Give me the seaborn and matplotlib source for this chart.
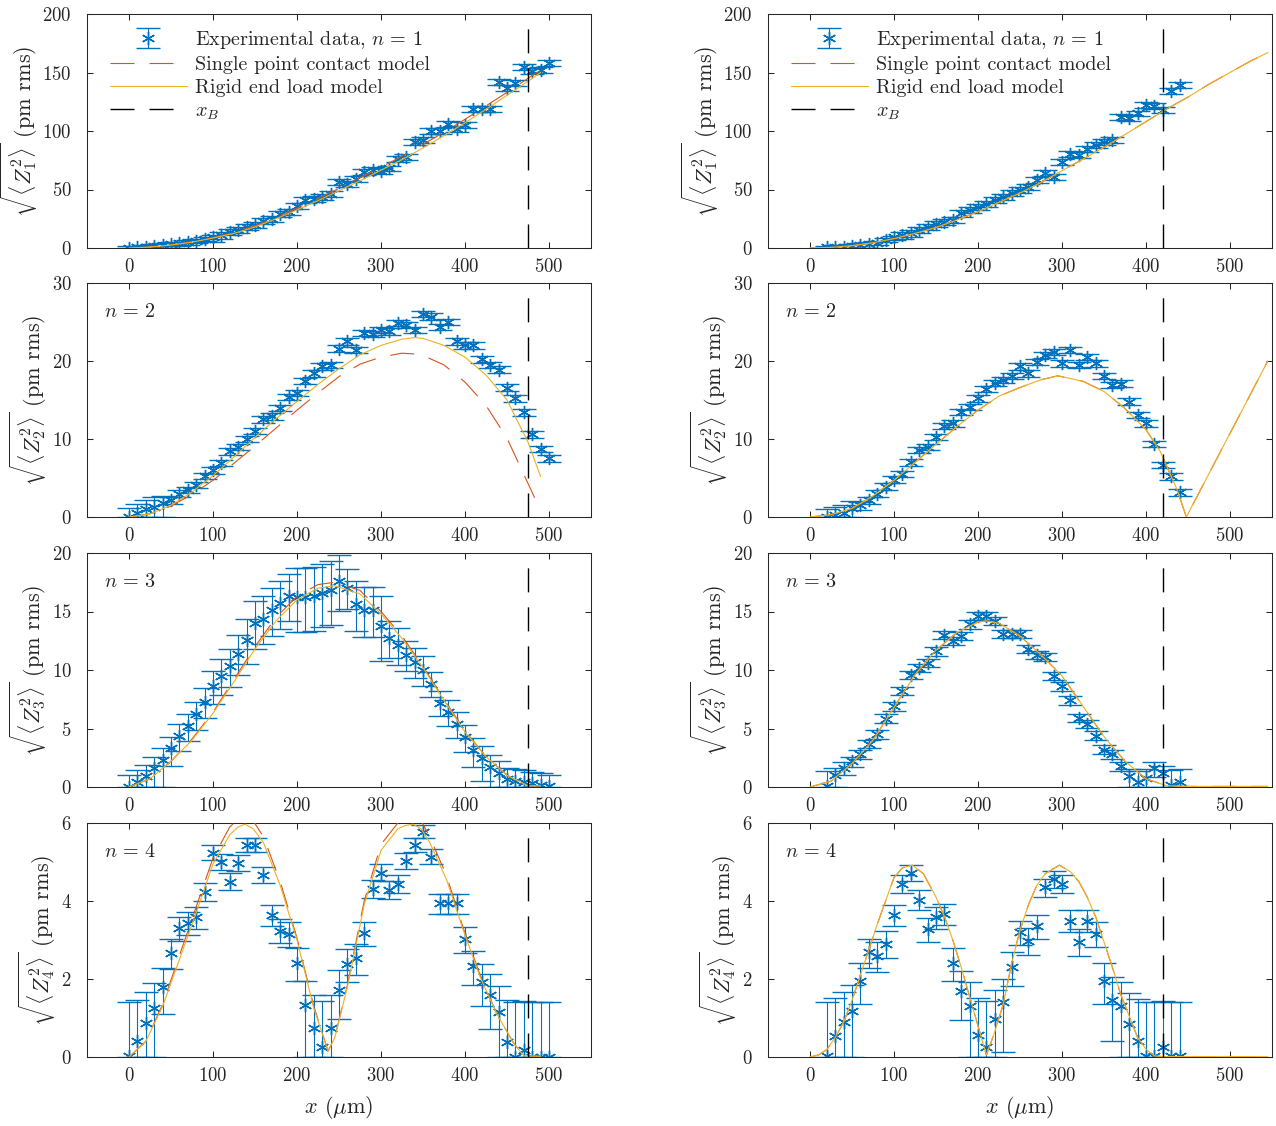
import numpy as np
import pandas as pd
import matplotlib
matplotlib.use("Agg")
import matplotlib.pyplot as plt
import seaborn as sns
from matplotlib.lines import Line2D

# ---------------- data ----------------
x_left = [0, 10, 20, 30, 40, 50, 60, 70, 80, 90, 100, 110, 120, 130, 140, 150, 160, 170, 180, 190,
          200, 210, 220, 230, 240, 250, 260, 270, 280, 290, 300, 310, 320, 330, 340, 350, 360, 370,
          380, 390, 400, 410, 420, 430, 440, 450, 460, 470, 480, 490, 500]
x_right = [20, 30, 40, 50, 60, 70, 80, 90, 100, 110, 120, 130, 140, 150, 160, 170, 180, 190, 200,
           210, 220, 230, 240, 250, 260, 270, 280, 290, 300, 310, 320, 330, 340, 350, 360, 370, 380,
           390, 400, 410, 420, 430, 440]

# experimental data, left column
z1_left = [0, 0.5, 1, 1.5, 2.5, 3.5, 4, 5, 6, 7.5, 9, 11, 14, 15.5, 18, 20, 23, 25, 29, 31,
           36, 41, 42, 44, 46.5, 56.5, 55, 59, 65, 67, 66, 68, 76, 78, 91, 92, 100, 100, 106, 102,
           105, 119, 119, 119, 142, 137, 141, 155, 151, 152, 158]
z2_left = [0, 0.5, 1, 1.3, 1.75, 2.2, 3, 3.5, 4.1, 5.3, 6, 6.9, 8.4, 9, 10, 11, 12.5, 12.9, 14, 15.4,
           15.9, 17.4, 18.4, 19.3, 19.5, 21.6, 22.5, 21.4, 23.6, 23.5, 24, 23.8, 24.9, 24.6, 24, 26,
           25.7, 24.4, 25, 22.5, 22, 22, 20.2, 19.5, 18.9, 16.6, 15.2, 13.4, 10.6, 8.7, 7.5]
z3_left = [0, 0.45, 0.9, 1.6, 2.3, 3.3, 4.4, 5.2, 6.2, 7.3, 8.6, 9.5, 10.3, 11.4, 12.6, 14, 14.4,
           15.1, 15.7, 16.3, 16.2, 16.2, 16.3, 16.6, 16.8, 17.6, 17, 15.6, 15.1, 15.1, 13.8, 12.7,
           12.1, 11.3, 10.7, 10, 8.8, 7.2, 6.4, 5.4, 4.3, 3.2, 2.5, 1.7, 1.2, 0.65, 0.55, 0.45, 0.3,
           0.2, 0.05]
z4_left = [0.03, 0.4, 0.86, 1.26, 1.8, 2.67, 3.3, 3.43, 3.58, 4.24, 5.24, 5.0, 4.5, 4.97, 5.44, 5.44,
           4.67, 3.64, 3.24, 3.15, 2.4, 1.33, 0.74, 0.25, 0.74, 1.72, 2.38, 2.53, 3.17, 4.31, 4.73,
           4.28, 4.44, 5.03, 5.44, 5.78, 5.14, 3.94, 3.94, 3.94, 3.02, 2.33, 1.93, 1.59, 1.16, 0.39,
           0.01, 0.18, 0, 0, 0]

# experimental data, right column
z1_right = [0.6, 0.85, 1.1, 1.7, 2.6, 3.4, 4.6, 6.8, 9, 11, 12.5, 15.4, 18.2, 20.5, 22.5, 24, 29.6,
            32.5, 34.8, 37.6, 41, 43.3, 47.3, 49.6, 52.4, 58, 64.4, 61, 73.8, 80.3, 79.5, 85, 88, 91,
            92.3, 112, 111, 115, 122, 121.6, 118, 134, 139]
z2_right = [0.05, 0.25, 0.5, 1.2, 1.5, 2.2, 3, 3.9, 4.8, 5.5, 7, 8.6, 9, 10.3, 11.7, 12, 13.5, 14.1,
            15.2, 16.4, 17.2, 17.6, 18.1, 19.3, 18.4, 19.9, 20.8, 21.2, 19.7, 21.4, 19.5, 20.5, 19.7,
            18.1, 16.9, 17.1, 14.8, 13.1, 12, 9.4, 6.7, 5.2, 3.2]
z3_right = [0.1, 1.0, 1.65, 2.2, 2.8, 3.7, 4.5, 5.85, 6.9, 8.2, 9.6, 10.2, 10.6, 11.6, 13, 12.5, 12.9,
            13.9, 14.6, 14.6, 14.2, 13.1, 13.1, 13.1, 11.8, 11.3, 11.1, 9.5, 8.6, 7.4, 5.9, 5.4, 4.4,
            3.2, 2.8, 1.8, 0.9, 0.4, 0.8, 1.6, 1.2, 0.2, 0.4]
z4_right = [0.02, 0.55, 0.89, 1.19, 1.96, 2.68, 2.6, 2.9, 3.64, 4.44, 4.72, 4.03, 3.28, 3.58, 3.67,
            2.41, 1.7, 1.32, 0.56, 0.25, 0.97, 1.42, 2.3, 3.2, 2.98, 3.35, 4.35, 4.56, 4.44, 3.5,
            2.96, 3.5, 3.15, 1.96, 1.47, 1.32, 0.85, 0.42, 0.02, 0.03, 0.25, 0.02, 0.02]

# upper error-bar lengths (pm rms)
e1_left = [1.5] * 10 + [2.5] * 41
e2_left = [1.2, 1.2, 1.2, 1.2, 1.0] + [0.4] * 46
e3_left = [1.0, 1.0, 1.0, 1.0, 1.0, 1.0, 1.0, 1.0, 1.1, 1.2, 1.3, 1.4, 1.5, 1.6, 1.8, 1.9, 1.9,
           1.9, 1.9, 1.9, 2.5, 2.5, 2.5, 2.5, 2.5, 2.2, 1.6, 2.0, 2.0, 2.0, 2.5, 1.5, 1.5, 1.2, 1.2,
           1.2, 1.0, 1.0, 1.0, 1.0, 1.0, 1.0, 1.0, 1.0, 1.0, 1.0, 1.0, 1.0, 1.0, 1.0, 1.0]
e1_right = [1.5] * 9 + [2.5] * 34
e2_right = [1.0, 1.0, 1.0, 0.8] + [0.4] * 39
e3_right = [1.3, 0.6, 0.45, 0.4] + [0.35] * 32 + [0.6, 1.0, 0.7, 0.5, 0.6, 1.25, 1.1]
var4_left = 2.0    # variance of Z4^2 (pm^2), from bar lengths
var4_right = 2.0

# model curves, left column
m1_x_left = [0, 25, 50, 75, 100, 125, 150, 175, 200, 225, 250, 275, 300, 325, 350, 375, 400, 425,
             450, 475, 490]
m1_red_left = [0, 0.8, 2.6, 5.2, 8.9, 13.2, 19, 26.2, 34, 42.3, 51, 60, 69, 78.5, 88.5, 99, 110,
               121.5, 133, 145, 152]
m1_yel_left = [0, 0.8, 2.5, 5, 8.5, 12.5, 18, 25, 32.5, 40.5, 49, 57.5, 66.5, 75.5, 85.5, 96, 107,
               118.5, 130.5, 142.5, 150]
m2_x_left = [0, 25, 50, 75, 100, 125, 150, 175, 200, 225, 250, 275, 300, 325, 340, 350, 375, 400,
             425, 450, 475, 490]
m2_red_left = [0, 0.4, 1.4, 2.9, 4.7, 6.9, 9.1, 11.4, 13.7, 15.9, 18.0, 19.6, 20.5, 21.0, 20.9, 20.7,
               19.5, 17.3, 14.3, 10.1, 4.3, 0.8]
m2_yel_left = [0, 0.4, 1.5, 3.2, 5.3, 7.7, 10.2, 12.6, 14.8, 17.0, 19.0, 20.8, 22.0, 22.8, 23.0, 22.9,
               22.0, 20.5, 18.2, 15.0, 9.6, 5.2]
m3_x_left = [0, 25, 50, 75, 100, 125, 150, 175, 200, 225, 245, 275, 300, 325, 350, 375, 400, 425,
             450, 475, 490]
m3_red_left = [0, 0.7, 2.2, 4.1, 6.4, 9.2, 12.0, 14.5, 16.3, 17.3, 17.5, 16.8, 15.0, 12.9, 10.3, 7.5,
               4.8, 2.6, 1.0, 0.1, 0.1]
m3_yel_left = [0, 0.7, 2.2, 4.0, 6.3, 9.0, 11.8, 14.2, 16.0, 17.0, 17.2, 16.5, 14.8, 12.7, 10.2, 7.4,
               4.7, 2.6, 1.0, 0.1, 0.1]
m4_x_left = [0, 20, 40, 60, 80, 100, 120, 130, 138, 148, 160, 180, 200, 220, 237, 245, 260, 280, 300,
             320, 328, 338, 348, 358, 378, 398, 418, 438, 458, 470, 490]
m4_red_left = [0, 0.4, 1.35, 2.6, 3.85, 5.1, 5.9, 6.1, 6.15, 6.05, 5.65, 4.5, 3.05, 1.3, 0.15, 0.5,
               1.85, 4.0, 5.45, 6.0, 6.1, 6.15, 6.05, 5.65, 4.65, 3.3, 2.1, 1.1, 0.35, 0.03, 0.02]
m4_yel_left = [0, 0.4, 1.3, 2.5, 3.7, 4.95, 5.7, 5.9, 5.97, 5.85, 5.5, 4.4, 3.0, 1.25, 0.15, 0.5,
               1.8, 3.9, 5.3, 5.85, 5.93, 5.97, 5.85, 5.5, 4.55, 3.25, 2.05, 1.1, 0.35, 0.03, 0.02]

# model curves, right column (both models coincide)
m1_x_right = [0, 25, 50, 75, 100, 125, 150, 175, 200, 225, 250, 275, 300, 325, 350, 375, 400, 425,
              450, 475, 500, 525, 545]
m1_right = [0, 0.5, 2, 4.5, 8, 12.5, 17.5, 24, 31, 39, 47, 56, 66, 76, 86, 97, 108, 119, 129, 140,
            150, 160, 167]
m2_x_right = [0, 25, 50, 75, 100, 125, 150, 175, 200, 225, 250, 275, 295, 325, 350, 375, 400, 417,
              437, 448, 545]
m2_right = [0, 0.3, 1.1, 2.7, 4.7, 7, 9.3, 11.6, 13.7, 15.5, 16.6, 17.6, 18.1, 17.4, 16.1, 13.9,
            11.2, 8.4, 3.5, 0, 20]
m3_x_right = [0, 25, 50, 75, 100, 125, 150, 175, 200, 210, 225, 250, 275, 300, 325, 350, 375, 400,
              425, 450, 545]
m3_right = [0, 0.5, 2.0, 4.0, 6.8, 9.6, 11.7, 13.2, 14.1, 14.2, 14.0, 12.9, 11.3, 9.5, 6.9, 4.3, 2.2,
            0.7, 0.1, 0.05, 0.05]
m4_x_right = [0, 10, 20, 30, 40, 50, 60, 70, 80, 90, 100, 110, 122, 135, 150, 160, 170, 180, 190,
              200, 210, 220, 230, 240, 250, 260, 270, 280, 297, 310, 320, 330, 340, 350, 360, 370,
              380, 390, 400, 410, 420, 545]
m4_right = [0, 0.05, 0.19, 0.5, 0.89, 1.45, 2.1, 2.75, 3.4, 4.0, 4.6, 4.85, 4.92, 4.7, 4.1, 3.6, 3.0,
            2.3, 1.55, 0.8, 0.05, 0.65, 1.35, 2.4, 3.25, 3.9, 4.4, 4.7, 4.92, 4.75, 4.5, 4.1, 3.6,
            2.95, 2.3, 1.6, 1.05, 0.5, 0.2, 0.03, 0.01, 0.01]

xB_left = 475
xB_right = 420

# ---------------- style ----------------
BLUE = "#0072BD"
RED = "#D95319"
YEL = "#EDB120"
AXC = "#262626"

sns.set_theme(style="ticks")
plt.rcParams.update({
    "font.family": ["cmr10", "DejaVu Serif"],
    "mathtext.fontset": "cm",
    "axes.formatter.use_mathtext": True,
    "font.size": 13.5,
    "axes.edgecolor": AXC,
    "axes.linewidth": 0.75,
    "xtick.color": AXC,
    "ytick.color": AXC,
    "xtick.direction": "in",
    "ytick.direction": "in",
    "xtick.top": True,
    "ytick.right": True,
    "xtick.major.size": 4,
    "ytick.major.size": 4,
    "xtick.major.width": 0.75,
    "ytick.major.width": 0.75,
    "xtick.labelsize": 13.5,
    "ytick.labelsize": 13.5,
    "axes.unicode_minus": False,
})

fig = plt.figure(figsize=(12.76, 11.26), dpi=100)
W, H = 1276.0, 1126.0
col_left_px = [87, 768]
row_top_px = [14, 283, 553, 823]
ax_w_px, ax_h_px = 504, 234


def bars(z, up):
    z = np.asarray(z, float)
    up = np.asarray(up, float) * np.ones_like(z)
    v = (z + up) ** 2 - z ** 2
    lo = z - np.sqrt(np.clip(z ** 2 - v, 0, None))
    return np.vstack([lo, up])


def up_from_var(z, var):
    z = np.asarray(z, float)
    return np.sqrt(z ** 2 + var) - z


panels = [
    (0, 0, x_left, z1_left, e1_left, m1_x_left, m1_red_left, m1_yel_left, 200, [0, 50, 100, 150, 200]),
    (1, 0, x_left, z2_left, e2_left, m2_x_left, m2_red_left, m2_yel_left, 30, [0, 10, 20, 30]),
    (2, 0, x_left, z3_left, e3_left, m3_x_left, m3_red_left, m3_yel_left, 20, [0, 5, 10, 15, 20]),
    (3, 0, x_left, z4_left, up_from_var(z4_left, var4_left), m4_x_left, m4_red_left, m4_yel_left, 6,
     [0, 2, 4, 6]),
    (0, 1, x_right, z1_right, e1_right, m1_x_right, m1_right, m1_right, 200, [0, 50, 100, 150, 200]),
    (1, 1, x_right, z2_right, e2_right, m2_x_right, m2_right, m2_right, 30, [0, 10, 20, 30]),
    (2, 1, x_right, z3_right, e3_right, m3_x_right, m3_right, m3_right, 20, [0, 5, 10, 15, 20]),
    (3, 1, x_right, z4_right, up_from_var(z4_right, var4_right), m4_x_right, m4_right, m4_right, 6,
     [0, 2, 4, 6]),
]

LW_M = 0.8
LW_B = 1.0
red_ls = (0, (17.3 / LW_M, 10.8 / LW_M))
blk_ls = (0, (17.3 / LW_B, 10.8 / LW_B))
MARK = (6, 2, 0)
EB_KW = dict(fmt="", linestyle="none", marker=MARK, markersize=9.5, markeredgewidth=1.0,
             color=BLUE, ecolor=BLUE, elinewidth=0.8, capsize=8.5, capthick=0.8)

for (r, c, x, z, up, mx, mr, my, ymax, yt) in panels:
    l = col_left_px[c] / W
    b = 1 - (row_top_px[r] + ax_h_px) / H
    ax = fig.add_axes([l, b, ax_w_px / W, ax_h_px / H])
    ax.set_facecolor("white")

    err = bars(z, up)
    eb = ax.errorbar(x, z, yerr=err, zorder=2, **EB_KW)

    df_m = pd.DataFrame({"x": mx, "red": mr, "yel": my})
    sns.lineplot(data=df_m, x="x", y="red", ax=ax, color=RED, lw=LW_M, linestyle=red_ls,
                 sort=False, estimator=None, zorder=3)
    sns.lineplot(data=df_m, x="x", y="yel", ax=ax, color=YEL, lw=LW_M, sort=False,
                 estimator=None, zorder=3.1)

    xb = xB_left if c == 0 else xB_right
    ax.axvline(xb, color="black", lw=LW_B, linestyle=blk_ls, zorder=4)

    ax.set_xlim(-50, 550)
    ax.set_ylim(0, ymax)
    ax.set_xticks([0, 100, 200, 300, 400, 500])
    ax.set_yticks(yt)
    ax.set_xlabel("")
    ax.set_ylabel(r"$\sqrt{\langle Z_%d^2\rangle}$ (pm rms)" % (r + 1), fontsize=16, labelpad=2)
    ax.tick_params(axis="x", which="both", pad=7)
    ax.tick_params(axis="y", which="both", pad=11)
    for sp in ax.spines.values():
        sp.set_visible(True)
        sp.set_color(AXC)

    if r == 3:
        ax.set_xlabel(r"$x$ ($\mu$m)", fontsize=16, labelpad=6.5)

    if r == 0:
        h_red = Line2D([], [], color=RED, lw=LW_M, linestyle=red_ls)
        h_yel = Line2D([], [], color=YEL, lw=LW_M)
        h_blk = Line2D([], [], color="black", lw=LW_B, linestyle=blk_ls)
        ax.legend([eb, h_red, h_yel, h_blk],
                  [r"Experimental data, $n\,=\,1$", "Single point contact model",
                   "Rigid end load model", r"$x_B$"],
                  loc="upper left", frameon=False, fontsize=14.5, handlelength=3.8,
                  handletextpad=0.4, labelspacing=0.25, borderaxespad=0.0,
                  bbox_to_anchor=(0.03, 0.97))
    else:
        ax.text(0.034, 0.875, r"$n\,=\,%d$" % (r + 1), transform=ax.transAxes, fontsize=14.5,
                va="center", ha="left")

fig.savefig("out.png", dpi=100)
